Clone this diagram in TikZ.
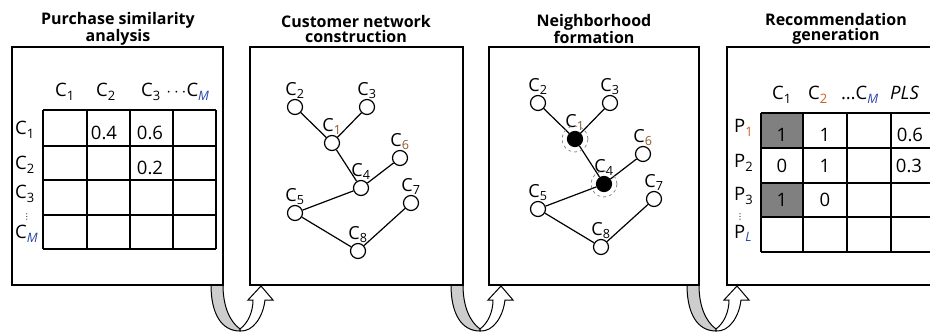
\documentclass[tikz,border=0pt]{standalone}
\usepackage{fontspec}
\setmainfont{Open Sans}
\newfontfamily\dejavu{DejaVu Sans}
\usetikzlibrary{positioning}
\definecolor{subbrown}{RGB}{140,90,40}
\definecolor{subblue}{RGB}{40,70,170}
\definecolor{suborange}{RGB}{205,95,30}
\definecolor{cellgray}{RGB}{128,128,128}
\definecolor{backgray}{RGB}{205,205,205}
\newcommand{\subt}[1]{\textsubscript{#1}}
\newcommand{\subm}[1]{\textsubscript{\textcolor{subblue}{\textit{#1}}}}
%Red de clientes (prefijo, relleno de C1 y C4)
\newcommand{\custnet}[2]{%
    \foreach \n/\x/\y/\f/\col in {1/332/143/#2/subbrown,2/295/107/white/black,3/367/107/white/black,
        4/361/188/#2/black,5/295/213/white/black,6/400/158/white/subbrown,7/411/203/white/black,8/358/251/white/black}{
        \node[cust=\f,label={[lbl]above:C\textsubscript{\textcolor{\col}{\n}}}] (#1\n) at (\x,\y) {};
    }
    \foreach \a/\b in {2/1,3/1,1/4,4/6,4/5,5/8,8/7}{
        \draw[edge] (#1\a) -- (#1\b);
    }
}
\begin{document}
\begin{tikzpicture}[x=1pt,y=-1pt,
    box/.style={line width=1.3pt},
    cell/.style={line width=1.3pt},
    title/.style={font=\bfseries\fontsize{16}{15.5}\selectfont,align=center,inner sep=0pt},
    txt/.style={font=\fontsize{18.5}{18.5}\selectfont,inner sep=0pt,anchor=base},
    vdot/.style={inner sep=0pt,anchor=base,font=\dejavu\fontsize{8}{8}\selectfont},
    cust/.style={circle,draw,line width=1.2pt,fill=#1,minimum size=15pt,inner sep=0pt,label distance=-1pt},
    cust/.default=white,
    lbl/.style={font=\fontsize{18}{18}\selectfont,inner sep=0pt},
    edge/.style={line width=1.2pt},
    ring/.style={dashed,gray,line width=0.7pt},
    uturn/.pic={
        \filldraw[fill=backgray,line width=1pt] (-12,0) .. controls (-12,28) and (-2,46) .. (17,46)
            -- (17,44) .. controls (6,36) and (0,20) .. (0,0) -- cycle;
        \filldraw[fill=white,line width=1pt] (17,46) .. controls (30,47) and (40,32) .. (42,15)
            -- (50,15) -- (38,1) -- (25,15) -- (30,15) .. controls (30,27) and (25,38) .. (17,44) -- cycle;
    }]
    \useasboundingbox (0,0) rectangle (930,334);
    \clip (0,0) rectangle (930,334);

    %Flechas entre etapas
    \pic at (223,285) {uturn};
    \pic at (463,285) {uturn};
    \pic at (699,285) {uturn};

    %Etapa 1
    \node[title] (ttl1) at (118,29) {Purchase similarity\\analysis};
    \draw[box] (12,47) rectangle (223,285);
    \foreach \x in {43,87,130,173,216}{
        \draw[cell] (\x,110) -- (\x,249);
    }
    \foreach \y in {110,146,180,215,249}{
        \draw[cell] (43,\y) -- (216,\y);
    }
    \node[txt] (a1) at (65,97) {C\subt{1}};
    \node[txt] (a2) at (106,97) {C\subt{2}};
    \node[txt] (a3) at (151,97) {C\subt{3}};
    \node[txt] (am) at (188,97) {$\cdots$C\subm{M}};
    \node[txt,anchor=base west] (r1) at (15,135) {C\subt{1}};
    \node[txt,anchor=base west] (r2) at (15,170) {C\subt{2}};
    \node[txt,anchor=base west] (r3) at (15,199) {C\subt{3}};
    \node[vdot] (rd) at (27,220) {⋮};
    \node[txt,anchor=base west] (rm) at (15,239) {C\subm{M}};
    \node[txt] (v12) at (104,140) {0.4};
    \node[txt] (v13) at (150,140) {0.6};
    \node[txt] (v23) at (150,175) {0.2};

    %Etapa 2
    \node[title] (ttl2) at (356,29) {Customer network\\construction};
    \draw[box] (250,47) rectangle (463,285);
    \custnet{n}{white}

    %Etapa 3
    \node[title] (ttl3) at (594,29) {Neighborhood\\formation};
    \draw[box] (489,47) rectangle (699,285);
    \begin{scope}[shift={(243,-4)}]
        \custnet{m}{black}
    \end{scope}
    \foreach \n in {1,4}{
        \draw[ring] (m\n) circle (13pt);
    }

    %Etapa 4
    \node[title] (ttl4) at (836,29) {Recommendation\\generation};
    \draw[box] (727,47) rectangle (960,285);
    \fill[cellgray] (761,113) rectangle (803,148);
    \fill[cellgray] (761,183) rectangle (803,217);
    \foreach \x in {761,803,847,891,935}{
        \draw[cell] (\x,113) -- (\x,252);
    }
    \foreach \y in {113,148,183,217,252}{
        \draw[cell] (761,\y) -- (940,\y);
    }
    \node[txt] (b1) at (782,100) {C\subt{1}};
    \node[txt] (b2) at (818,100) {C\subt{\textcolor{suborange}{2}}};
    \node[txt] (bm) at (860,100) {\dots C\subm{M}};
    \node[txt,anchor=base west] (bp) at (890,100) {\textit{PLS}};
    \node[txt,anchor=base west] (p1) at (734,133) {P\subt{\textcolor{suborange}{1}}};
    \node[txt,anchor=base west] (p2) at (734,168) {P\subt{2}};
    \node[txt,anchor=base west] (p3) at (734,201) {P\subt{3}};
    \node[vdot] (pd) at (740,220) {⋮};
    \node[txt,anchor=base west] (pl) at (734,238) {P\subm{L}};
    \node[txt] (w11) at (782,142) {1};
    \node[txt] (w12) at (825,142) {1};
    \node[txt] (w1p) at (910,142) {0.6};
    \node[txt] (w21) at (782,173) {0};
    \node[txt] (w22) at (825,173) {1};
    \node[txt] (w2p) at (909,173) {0.3};
    \node[txt] (w31) at (782,207) {1};
    \node[txt] (w32) at (825,207) {0};
\end{tikzpicture}
\end{document}
